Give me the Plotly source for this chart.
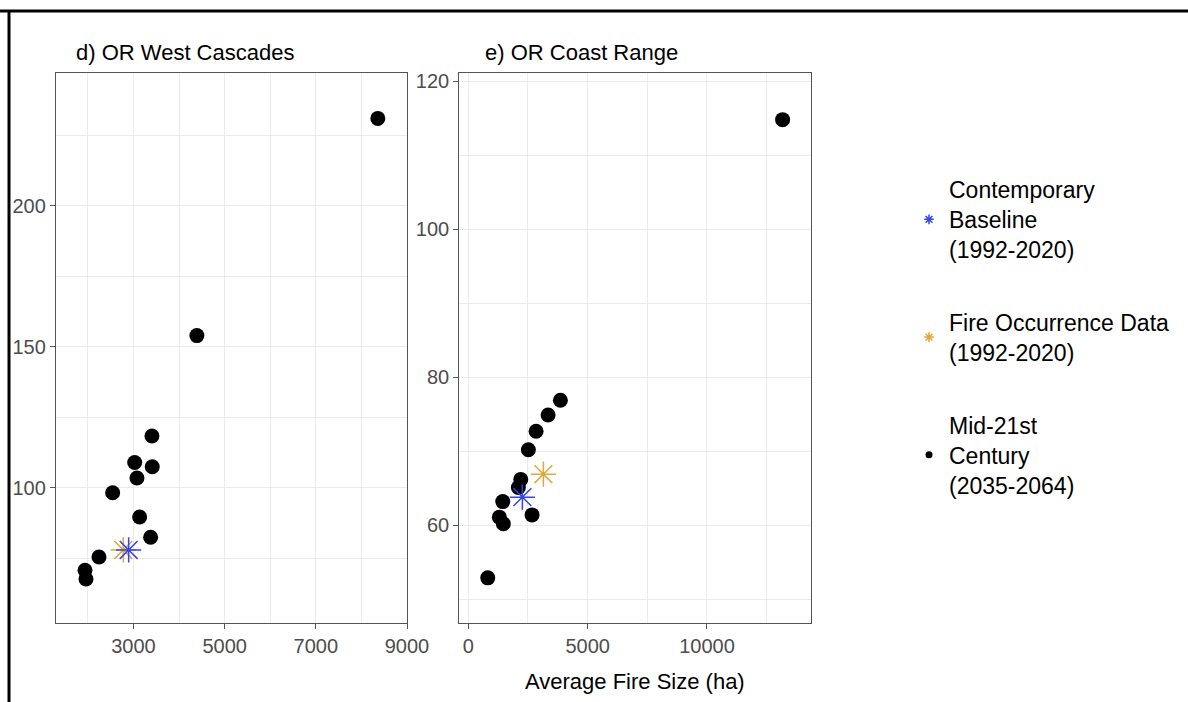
import plotly.graph_objects as go

# ---------------- data ----------------
# d) OR West Cascades
wc_future_x = [8360, 4390, 3405, 3026, 3412, 3076, 2543, 3135, 3376, 2243, 1936, 1958]
wc_future_y = [230.9, 153.9, 118.3, 108.9, 107.4, 103.4, 98.2, 89.6, 82.4, 75.4, 70.7, 67.6]
wc_fod_x = [2776]
wc_fod_y = [77.9]
wc_base_x = [2894]
wc_base_y = [77.9]

# e) OR Coast Range
cr_future_x = [13170, 3859, 3343, 2840, 2517, 2198, 2097, 1443, 1300, 1468, 2672, 814]
cr_future_y = [114.8, 76.9, 74.9, 72.7, 70.2, 66.2, 65.1, 63.2, 61.1, 60.2, 61.4, 52.9]
cr_fod_x = [3146]
cr_fod_y = [66.9]
cr_base_x = [2265]
cr_base_y = [63.8]

panel_titles = ["d) OR West Cascades", "e) OR Coast Range"]
series_names = ["Contemporary<br>Baseline<br>(1992-2020)",
                "Fire Occurrence Data<br>(1992-2020)",
                "Mid-21st<br>Century<br>(2035-2064)"]
x_title = "Average Fire Size (ha)"

BLUE = "#3344EE"
GOLD = "#E0A83A"
BLACK = "#000000"

FONT = "Liberation Sans, Arial, sans-serif"

fig = go.Figure()

def add_panel(xa, ya, fx, fy, ox, oy, bx, by):
    fig.add_trace(go.Scatter(x=fx, y=fy, mode="markers", xaxis=xa, yaxis=ya,
                             marker=dict(color=BLACK, size=15), showlegend=False,
                             hoverinfo="skip"))
    fig.add_trace(go.Scatter(x=ox, y=oy, mode="markers", xaxis=xa, yaxis=ya,
                             marker=dict(symbol="asterisk-open", size=21, color=GOLD,
                                         line=dict(color=GOLD, width=1.5)),
                             showlegend=False, hoverinfo="skip"))
    fig.add_trace(go.Scatter(x=bx, y=by, mode="markers", xaxis=xa, yaxis=ya,
                             marker=dict(symbol="asterisk-open", size=21, color=BLUE,
                                         line=dict(color=BLUE, width=1.5)),
                             showlegend=False, hoverinfo="skip"))

add_panel("x", "y", wc_future_x, wc_future_y, wc_fod_x, wc_fod_y, wc_base_x, wc_base_y)
add_panel("x2", "y2", cr_future_x, cr_future_y, cr_fod_x, cr_fod_y, cr_base_x, cr_base_y)

# legend-only entries (small key symbols)
fig.add_trace(go.Scatter(x=[None], y=[None], mode="markers", name=series_names[0],
                         legendgroup="a",
                         marker=dict(symbol="asterisk-open", size=8, color=BLUE,
                                     line=dict(color=BLUE, width=1.5))))
fig.add_trace(go.Scatter(x=[None], y=[None], mode="markers", name=series_names[1],
                         legendgroup="b",
                         marker=dict(symbol="asterisk-open", size=8, color=GOLD,
                                     line=dict(color=GOLD, width=1.5))))
fig.add_trace(go.Scatter(x=[None], y=[None], mode="markers", name=series_names[2],
                         legendgroup="c",
                         marker=dict(color=BLACK, size=7)))

axis_common = dict(showline=True, mirror=True, linecolor="#555555", linewidth=1.3,
                   ticks="outside", ticklen=5, tickcolor="#555555", tickwidth=1.2,
                   showgrid=True, gridcolor="#EBEBEB", gridwidth=1.4,
                   zeroline=False, tickformat="d",
                   tickfont=dict(family=FONT, size=20, color="#4D4D4D"))

L, R, T, B = 56, 377, 73, 79
W, H = 1188, 702
pw, ph = W - L - R, H - T - B

def px(xp):
    return (xp - L) / pw

def py(yp):
    return (H - B - yp) / ph

fig.update_layout(
    width=W, height=H,
    margin=dict(l=L, r=R, t=T, b=B),
    paper_bgcolor="white", plot_bgcolor="white",
    font=dict(family=FONT, color="black"),
    xaxis=dict(domain=[0, px(407)], range=[1300, 9000], tick0=1000, dtick=2000,
               minor=dict(dtick=1000, tick0=0, showgrid=True, gridcolor="#EBEBEB", gridwidth=0.8),
               **axis_common),
    yaxis=dict(domain=[0, 1], range=[52, 247], tick0=0, dtick=50,
               minor=dict(dtick=25, tick0=0, showgrid=True, gridcolor="#EBEBEB", gridwidth=0.8),
               **axis_common),
    xaxis2=dict(domain=[px(459.3), 1], range=[-378, 14360], tick0=0, dtick=5000,
                minor=dict(dtick=2500, tick0=0, showgrid=True, gridcolor="#EBEBEB", gridwidth=0.8),
                anchor="y2", **axis_common),
    yaxis2=dict(domain=[0, 1], range=[46.8, 121.1], tick0=0, dtick=20,
                minor=dict(dtick=10, tick0=0, showgrid=True, gridcolor="#EBEBEB", gridwidth=0.8),
                anchor="x2", **axis_common),
    legend=dict(x=px(909), y=py(168), xanchor="left", yanchor="top",
                font=dict(family=FONT, size=23, color="black"),
                tracegroupgap=40, bgcolor="rgba(0,0,0,0)"),
    showlegend=True,
)

fig.add_annotation(text=panel_titles[0], xref="paper", yref="paper",
                   x=px(74), y=py(52), xanchor="left", yanchor="middle", showarrow=False,
                   font=dict(family=FONT, size=22, color="black"))
fig.add_annotation(text=panel_titles[1], xref="paper", yref="paper",
                   x=px(483), y=py(52), xanchor="left", yanchor="middle", showarrow=False,
                   font=dict(family=FONT, size=22, color="black"))
fig.add_annotation(text=x_title, xref="x2 domain", yref="paper",
                   x=0.5, y=py(681), xanchor="center", yanchor="middle", showarrow=False,
                   font=dict(family=FONT, size=22, color="black"))

# outer frame lines (top and left edges of the cropped figure)
fig.add_shape(type="line", xref="paper", yref="paper",
              x0=px(0), x1=px(W), y0=py(11), y1=py(11),
              line=dict(color="black", width=3))
fig.add_shape(type="line", xref="paper", yref="paper",
              x0=px(9), x1=px(9), y0=py(11), y1=py(H),
              line=dict(color="black", width=3))

fig.write_html("out.html", config={"displayModeBar": False},
               post_script="document.body.style.margin='0';")
